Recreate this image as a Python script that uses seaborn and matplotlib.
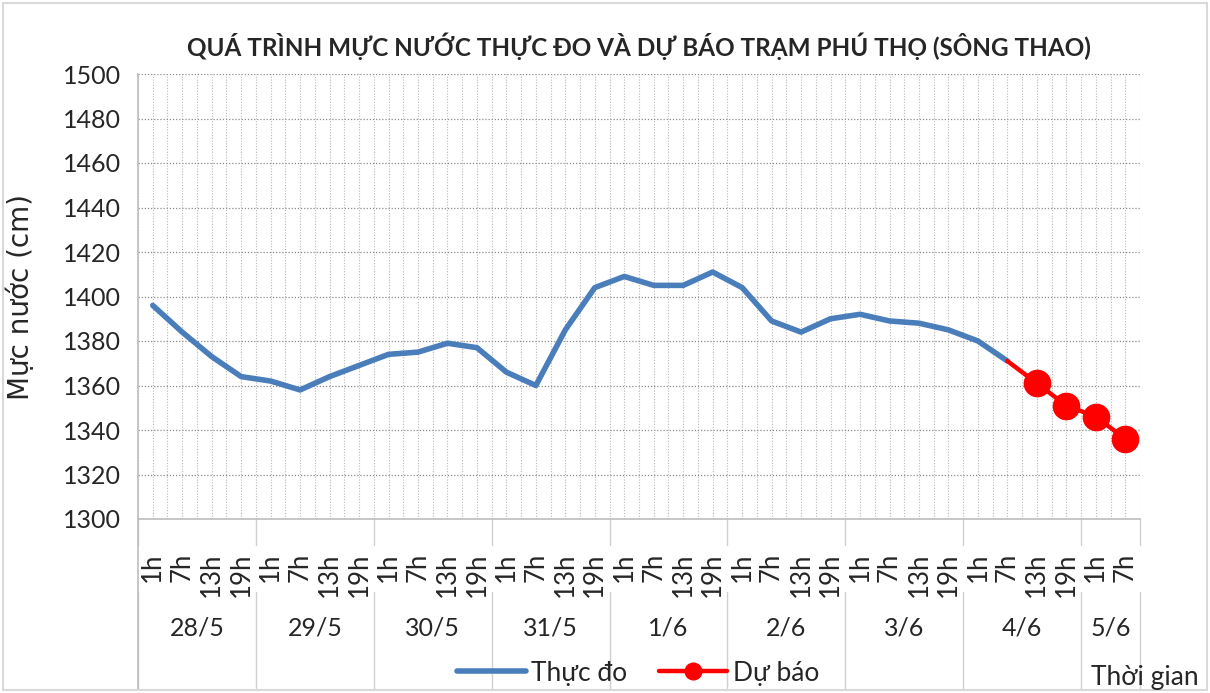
#!/usr/bin/env python3
"""Water level chart, Phu Tho station (Thao river): observed and forecast."""

import matplotlib
matplotlib.use('Agg')
import matplotlib.pyplot as plt
import matplotlib.transforms as mtransforms
from matplotlib.lines import Line2D
import seaborn as sns
import numpy as np
import pandas as pd

# Data
DAYS = ['28/5', '29/5', '30/5', '31/5', '1/6', '2/6', '3/6', '4/6', '5/6']
HOURS = ['1h', '7h', '13h', '19h']
HOURS_PER_DAY = [4, 4, 4, 4, 4, 4, 4, 4, 2]
OBSERVED = [1396, 1384, 1373, 1364, 1362, 1358, 1364, 1369, 1374, 1375,
            1379, 1377, 1366, 1360, 1385, 1404, 1409, 1405, 1405, 1411,
            1404, 1389, 1384, 1390, 1392, 1389, 1388, 1385, 1380, 1371]
FORECAST = [1371, 1361, 1351, 1346, 1336]   # starts at last observed point
FORECAST_START = 29

TITLE = 'QUÁ TRÌNH MỰC NƯỚC THỰC ĐO VÀ DỰ BÁO TRẠM PHÚ THỌ (SÔNG THAO)'
YLABEL = 'Mực nước (cm)'
XLABEL = 'Thời gian'
OBS_NAME = 'Thực đo'
FC_NAME = 'Dự báo'

BLUE = '#4a7ebb'
RED = '#ff0000'
FONT = ['Lato', 'DejaVu Sans']


def main():
    sns.set_style('white')
    plt.rcParams['font.family'] = FONT

    hour_labels = []
    for n in HOURS_PER_DAY:
        hour_labels += HOURS[:n]
    n_pts = len(hour_labels)

    obs = pd.DataFrame({'idx': np.arange(len(OBSERVED)), 'value': OBSERVED})
    fc = pd.DataFrame({'idx': np.arange(FORECAST_START, FORECAST_START + len(FORECAST)),
                       'value': FORECAST})

    fig = plt.figure(figsize=(12.1, 6.93), dpi=100)
    ax = fig.add_axes([138 / 1210, 1 - 519 / 693, (1140 - 138) / 1210, (519 - 74) / 693])

    sns.lineplot(data=obs, x='idx', y='value', color=BLUE, lw=4.0, ax=ax, zorder=3)
    sns.lineplot(data=fc, x='idx', y='value', color=RED, lw=3.2, ax=ax, zorder=4)
    sns.scatterplot(data=fc.iloc[1:], x='idx', y='value', color=RED, s=340,
                    edgecolor=RED, ax=ax, zorder=5)

    ax.set_xlim(-0.5, n_pts - 0.5)
    ax.set_ylim(1300, 1500)
    ax.set_yticks(np.arange(1300, 1501, 20))
    ax.set_yticklabels([str(v) for v in range(1300, 1501, 20)], fontsize=18)
    ax.set_xticks(np.arange(n_pts))
    ax.set_xticks(np.arange(n_pts + 1) - 0.5, minor=True)
    ax.set_xticklabels(hour_labels, rotation=90, fontsize=18.5, va='top', ha='center')
    ax.tick_params(axis='x', which='both', length=0, pad=24)
    ax.tick_params(axis='y', length=0, pad=12)

    ax.grid(True, which='both', axis='x', color='#b8b8b8', ls=(0, (1, 1.5)), lw=0.8)
    ax.grid(True, which='major', axis='y', color='#8c8c8c', ls=(0, (1, 1.5)), lw=0.9)
    ax.set_axisbelow(True)

    for side in ['top', 'right']:
        ax.spines[side].set_visible(False)
    for side in ['left', 'bottom']:
        ax.spines[side].set_color('#bdbdbd')
        ax.spines[side].set_linewidth(1.2)

    ax.set_xlabel('')
    ax.set_ylabel(YLABEL, fontsize=20, family=['DejaVu Sans'], labelpad=20)
    ax.set_title(TITLE, fontsize=17.5, fontweight='bold', pad=13)

    # Day groups under the hour labels
    trans = mtransforms.blended_transform_factory(ax.transData, ax.transAxes)
    pos = 0
    bounds = [-0.5]
    for day, n in zip(DAYS, HOURS_PER_DAY):
        ax.text(pos + (n - 1) / 2, -0.245, day, transform=trans, fontsize=18,
                ha='center', va='center')
        pos += n
        bounds.append(pos - 0.5)
    ymin_axes = -(690 - 519) / 445
    for b in bounds:
        top_gap = -(545 - 519) / 445
        ax.plot([b, b], [0, top_gap], transform=trans, color='#d0d0d0',
                lw=1.0, clip_on=False)
        ax.plot([b, b], [-(592 - 519) / 445, ymin_axes], transform=trans,
                color='#d0d0d0', lw=1.0, clip_on=False)
    ax.plot([-0.5, -0.5], [0, ymin_axes], transform=trans, color='#bdbdbd',
            lw=1.2, clip_on=False)

    fig.text(1145 / 1210, 1 - 678 / 693, XLABEL, fontsize=19, ha='center', va='center')

    handles = [
        Line2D([], [], color=BLUE, lw=4.0),
        Line2D([], [], color=RED, lw=3.2, marker='o', markersize=12),
    ]
    fig.legend(handles, [OBS_NAME, FC_NAME], loc='center', ncol=2,
               bbox_to_anchor=(638 / 1210, 1 - 673 / 693), frameon=False,
               fontsize=19, handlelength=2.6, handletextpad=0.2, columnspacing=1.2)

    # chart border
    fig.patches.append(plt.Rectangle((3 / 1210, 3 / 693), 1 - 6 / 1210, 1 - 6 / 693,
                                     transform=fig.transFigure, fill=False,
                                     edgecolor='#d9d9d9', lw=1.5))

    fig.savefig('out.png', dpi=100)
    plt.close(fig)


if __name__ == '__main__':
    main()
